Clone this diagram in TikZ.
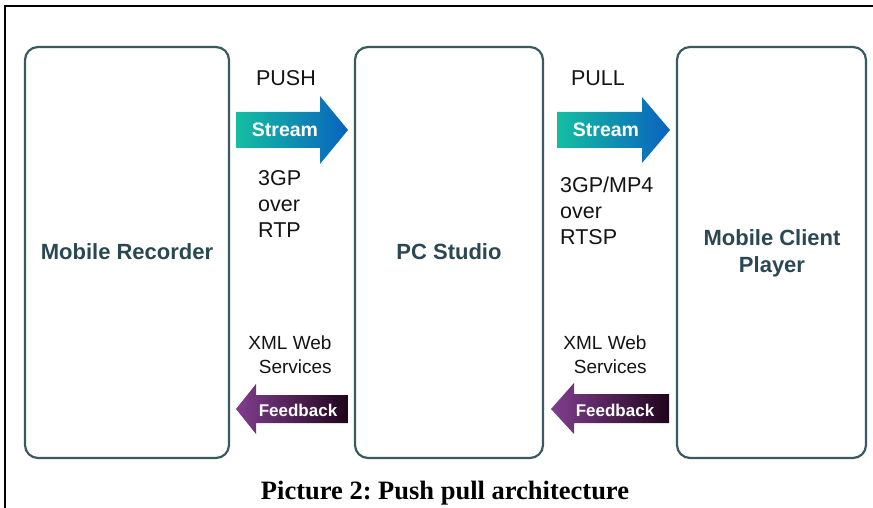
\documentclass[tikz,border=0pt]{standalone}
\usepackage{fontspec}
\setmainfont{Liberation Sans}
\newfontfamily\capfont{Liberation Serif}
\frenchspacing
\definecolor{boxline}{RGB}{58,90,95}
\definecolor{labelcol}{RGB}{42,72,82}
\definecolor{txt}{RGB}{20,20,20}
\definecolor{strA}{RGB}{20,190,162}
\definecolor{strB}{RGB}{10,98,190}
\definecolor{fbA}{RGB}{128,62,142}
\definecolor{fbB}{RGB}{32,5,28}
\tikzset{
  box/.style={draw=boxline, line width=2.2pt, rounded corners=13pt, inner sep=0pt},
  boxlabel/.style={font=\fontsize{22}{27}\selectfont\bfseries, text=labelcol, align=center},
  plain/.style={font=\fontsize{21.5}{26}\selectfont, text=txt},
  xmltext/.style={font=\fontsize{19}{24}\selectfont, text=txt, align=center},
  arrtext/.style={font=\bfseries, text=white},
  streamshade/.style={left color=strA, right color=strB},
  fbshade/.style={left color=fbA, right color=fbB}
}
\begin{document}
\begin{tikzpicture}[x=1pt,y=-1pt]
\useasboundingbox[fill=white] (0,0) rectangle (873,508);
% frame
\draw[line width=1.3pt] (873,6) -- (5,6) -- (5,508);
% boxes
\node[box, minimum width=204pt, minimum height=411pt] (rec) at (127,252.5) {};
\node[box, minimum width=188pt, minimum height=411pt] (pc) at (449,252.5) {};
\node[box, minimum width=189pt, minimum height=411pt] (cli) at (771.5,252.5) {};
\node[boxlabel] (recl) at (127,252) {Mobile Recorder};
\node[boxlabel] (pcl) at (449,252) {PC Studio};
\node[boxlabel] (clil) at (772,253) {Mobile Client\\Player};
% stream arrows
\shade[streamshade] (236,112) -- (320,112) -- (320,96) -- (348,130) -- (320,164) -- (320,148) -- (236,148) -- cycle;
\shade[streamshade] (557,112) -- (642,112) -- (642,97) -- (670,130) -- (642,163) -- (642,148) -- (557,148) -- cycle;
\node[arrtext, font=\fontsize{19.5}{22}\selectfont\bfseries] (s1) at (285,130) {Stream};
\node[arrtext, font=\fontsize{19.5}{22}\selectfont\bfseries] (s2) at (606,130) {Stream};
% feedback arrows
\shade[fbshade] (348,395) -- (256,395) -- (256,384) -- (236,409) -- (256,434) -- (256,423) -- (348,423) -- cycle;
\shade[fbshade] (669,394) -- (574,394) -- (574,383) -- (551,409) -- (574,434) -- (574,423) -- (669,423) -- cycle;
\node[arrtext, font=\fontsize{17}{20}\selectfont\bfseries] (f1) at (298,410) {Feedback};
\node[arrtext, font=\fontsize{17}{20}\selectfont\bfseries] (f2) at (615,410) {Feedback};
% labels
\node[plain] (push) at (286,78) {PUSH};
\node[plain] (pull) at (598,78) {PULL};
\node[plain, anchor=west, align=left, inner sep=0pt] (p1) at (258,204) {3GP\\over\\RTP};
\node[plain, anchor=west, align=left, inner sep=0pt] (p2) at (560,211) {3GP/MP4\\over\\RTSP};
\node[xmltext] (x1) at (290,355) {XML Web\\\ \ Services};
\node[xmltext] (x2) at (605,355) {XML Web\\\ \ Services};
% caption
\node[font=\capfont\fontsize{26.5}{30}\selectfont\bfseries, text=black] (cap) at (445,493) {Picture 2: Push pull architecture};
\end{tikzpicture}
\end{document}
